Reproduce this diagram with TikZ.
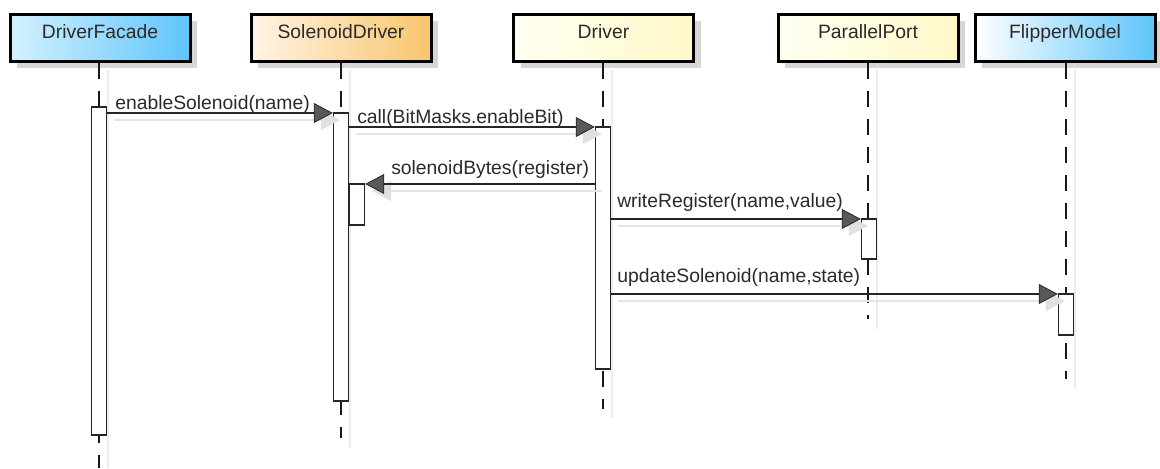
\documentclass[tikz,border=0pt]{standalone}
\usepackage{fontspec}
\setmainfont{Liberation Sans}
\usetikzlibrary{arrows.meta,shadows,fit}
\definecolor{bluel}{HTML}{D5F1FF}
\definecolor{bluer}{HTML}{5EC5FB}
\definecolor{orl}{HTML}{FFF4E4}
\definecolor{orr}{HTML}{F9C56E}
\definecolor{yl}{HTML}{FFFFF2}
\definecolor{yr}{HTML}{FFF9C8}
\definecolor{txt}{HTML}{2A2A2A}
\begin{document}
\begin{tikzpicture}[x=0.75pt,y=-0.75pt,
  obj/.style={draw=black, line width=2.25pt, minimum width=135pt, minimum height=35.25pt,
    inner sep=0pt, text height=8pt, text depth=6pt, text=txt,
    font=\fontsize{14.5}{17}\selectfont,
    general shadow={fill=black!16, shadow xshift=5.25pt, shadow yshift=-5.25pt}},
  lifeline/.style={draw=black!90, line width=1.3pt, dash pattern=on 12pt off 9pt},
  lifesh/.style={draw=black!7, line width=1.1pt},
  act/.style={draw=black!85, line width=1.1pt, fill=white, inner sep=0pt},
  msg/.style={draw=black!85, line width=1.1pt,
    -{Triangle[length=14.25pt,width=15pt,fill=black!65,color=black!85,line width=0.6pt]}},
  msgsh/.style={draw=black!10, line width=1.1pt,
    -{Triangle[length=14.25pt,width=15pt,fill=black!12,color=black!12,line width=0.6pt]},
    transform canvas={shift={(5.25pt,-5.25pt)}}},
  lbl/.style={anchor=base west, inner sep=0pt, text=txt, font=\fontsize{14.5}{17}\selectfont}
]
\useasboundingbox (0,0) rectangle (1160,468);

% objects
\node[obj, left color=bluel, right color=bluer] (df) at (100,37.5) {DriverFacade};
\node[obj, left color=orl, right color=orr] (sd) at (341,37.5) {SolenoidDriver};
\node[obj, left color=yl, right color=yr] (dr) at (603.5,37.5) {Driver};
\node[obj, left color=yl, right color=yr] (pp) at (868,37.5) {ParallelPort};
\node[obj, left color=white, right color=bluer] (fm) at (1065,37.5) {FlipperModel};

% lifeline ends
\coordinate (e1) at (99,468);
\coordinate (e2) at (341,438);
\coordinate (e3) at (603,409);
\coordinate (e4) at (868,319);
\coordinate (e5) at (1066,379);
\coordinate (s1a) at (108,70); \coordinate (s1b) at (108,468);
\coordinate (s2a) at (350,70); \coordinate (s2b) at (350,448);
\coordinate (s3a) at (612,70); \coordinate (s3b) at (612,418);
\coordinate (s4a) at (877,70); \coordinate (s4b) at (877,329);
\coordinate (s5a) at (1075,70); \coordinate (s5b) at (1075,389);

% lifeline shadows
\draw[lifesh] (s1a) -- (s1b);
\draw[lifesh] (s2a) -- (s2b);
\draw[lifesh] (s3a) -- (s3b);
\draw[lifesh] (s4a) -- (s4b);
\draw[lifesh] (s5a) -- (s5b);

% lifelines
\draw[lifeline] (df.south -| e1) -- (e1);
\draw[lifeline] (sd.south -| e2) -- (e2);
\draw[lifeline] (dr.south -| e3) -- (e3);
\draw[lifeline] (pp.south -| e4) -- (e4);
\draw[lifeline] (fm.south -| e5) -- (e5);

% activations
\node[act, fit={(91.5,107) (106.5,435)}] (a1) {};
\node[act, fit={(333.5,113) (348.5,401)}] (a2) {};
\node[act, fit={(349.5,184) (364.5,225)}] (a3) {};
\node[act, fit={(595.5,127) (610.5,369)}] (a4) {};
\node[act, fit={(861.5,219) (876.5,259)}] (a5) {};
\node[act, fit={(1058.5,294) (1073.5,335)}] (a6) {};

% message rows
\coordinate (m1) at (0,113);
\coordinate (m2) at (0,127);
\coordinate (m3) at (0,184);
\coordinate (m4) at (0,219);
\coordinate (m5) at (0,294);

% message shadows
\draw[msgsh] (a1.east |- m1) -- (a2.west |- m1);
\draw[msgsh] (a2.east |- m2) -- (a4.west |- m2);
\draw[msgsh] (a4.west |- m3) -- (a3.east |- m3);
\draw[msgsh] (a4.east |- m4) -- (a5.west |- m4);
\draw[msgsh] (a4.east |- m5) -- (a6.west |- m5);

% messages
\draw[msg] (a1.east |- m1) -- (a2.west |- m1);
\draw[msg] (a2.east |- m2) -- (a4.west |- m2);
\draw[msg] (a4.west |- m3) -- (a3.east |- m3);
\draw[msg] (a4.east |- m4) -- (a5.west |- m4);
\draw[msg] (a4.east |- m5) -- (a6.west |- m5);

% labels
\node[lbl] (t1) at (115,109) {enableSolenoid(name)};
\node[lbl] (t2) at (357,123) {call(BitMasks.enableBit)};
\node[lbl] (t3) at (391,174) {solenoidBytes(register)};
\node[lbl] (t4) at (617,207) {writeRegister(name,value)};
\node[lbl] (t5) at (617,282) {updateSolenoid(name,state)};
\end{tikzpicture}
\end{document}
